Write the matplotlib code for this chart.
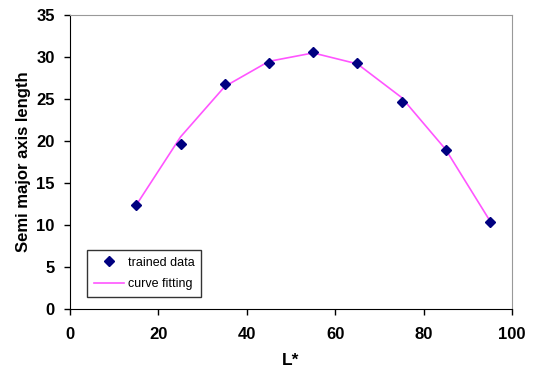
import matplotlib.pyplot as plt

plt.rcParams['font.family'] = ['Liberation Sans', 'DejaVu Sans']

l_star = [15, 25, 35, 45, 55, 65, 75, 85, 95]
trained = [12.4, 19.6, 26.8, 29.25, 30.6, 29.25, 24.7, 18.9, 10.4]
fitted = [12.4, 20.5, 26.5, 29.5, 30.5, 29.2, 25.2, 19.0, 10.5]

fig = plt.figure(figsize=(5.35, 3.7), dpi=100)
ax = fig.add_axes([0.131, 0.165, 0.826, 0.794])

ax.plot(l_star, trained, linestyle='none', marker='D', markersize=5.5,
        color='#000080', label='trained data', zorder=3)
ax.plot(l_star, fitted, color='#ff55ff', linewidth=1.2, label='curve fitting', zorder=2)

ax.set_xlim(0, 100)
ax.set_ylim(0, 35)
ax.set_xticks(range(0, 101, 20))
ax.set_yticks(range(0, 36, 5))
ax.tick_params(direction='out', length=4.5, width=1, labelsize=12)
ax.tick_params(axis='x', pad=8.5)
ax.tick_params(axis='y', pad=6.5)
for lab in ax.get_xticklabels() + ax.get_yticklabels():
    lab.set_fontweight('bold')

ax.spines['left'].set_color('black')
ax.spines['bottom'].set_color('black')
ax.spines['top'].set_color('#999999')
ax.spines['right'].set_color('#999999')

ax.set_xlabel('L*', fontsize=12.5, fontweight='bold', labelpad=8)
ax.set_ylabel('Semi major axis length', fontsize=12, fontweight='bold', labelpad=4)

leg = ax.legend(loc='lower left', bbox_to_anchor=(0.038, 0.041), fontsize=9,
                frameon=True, fancybox=False, edgecolor='black', borderpad=0.55,
                handlelength=2.4, handletextpad=0.3, labelspacing=0.75,
                borderaxespad=0)
leg.get_frame().set_linewidth(1.0)

fig.savefig('out.png', dpi=100)
